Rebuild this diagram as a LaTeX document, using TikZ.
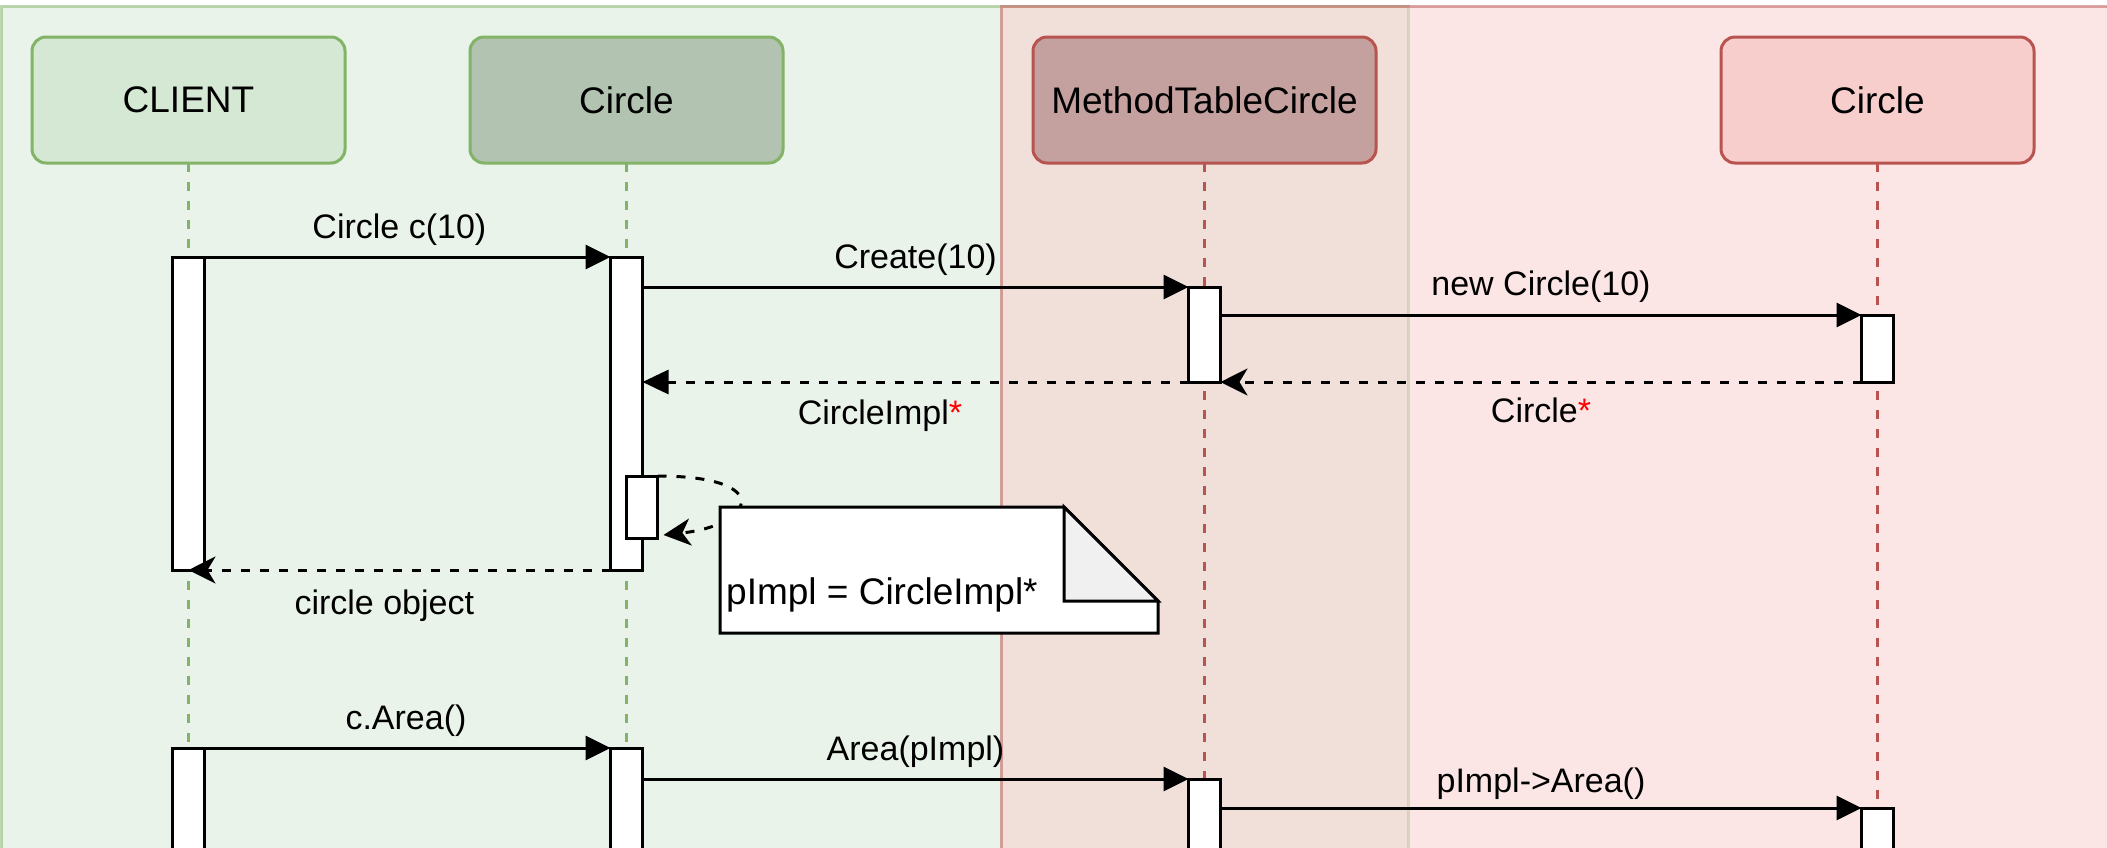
\documentclass[tikz,border=0pt]{standalone}
\usepackage{fontspec}
\setmainfont{Liberation Sans}
\usetikzlibrary{positioning,arrows.meta}

\definecolor{grnfill}{HTML}{D5E8D4}
\definecolor{grnline}{HTML}{82B366}
\definecolor{grndark}{HTML}{B2C4B1}
\definecolor{redfill}{HTML}{F8CECC}
\definecolor{redline}{HTML}{B85450}
\definecolor{reddark}{HTML}{C4A09F}

\tikzset{
	lane/.style={line width=3pt,opacity=0.5},
	head/.style={draw,rounded corners=14pt,line width=3pt,outer sep=0pt,minimum width=313pt,minimum height=126pt,font=\fontsize{37}{44}\selectfont},
	life/.style={line width=2.5pt,dash pattern=on 9pt off 10pt},
	bar/.style={draw,fill=white,line width=3pt,minimum width=32pt,inner sep=0pt,outer sep=0pt,anchor=north},
	lbl/.style={font=\fontsize{34}{40}\selectfont,inner sep=0pt,text height=25pt,text depth=7pt},
	msg/.style={line width=3pt,-{Triangle[length=25pt,width=24pt]}},
	ret/.style={line width=3pt,dash pattern=on 9pt off 10pt,-{Stealth[length=27pt,width=27pt,inset=8pt]}},
	rettri/.style={ret,-{Triangle[length=26pt,width=24pt]}}
}

\begin{document}
\begin{tikzpicture}[x=1pt,y=-1pt]
\useasboundingbox (0,0) rectangle (2107,847);
\clip (0,0) rectangle (2107,847);

\filldraw[lane,draw=grnline,fill=grnfill]	(1,6) rectangle (1408,900);
\filldraw[lane,draw=redline,fill=redfill]	(1001,6) rectangle (2200,900);

\node[head,fill=grnfill,draw=grnline]				(client)	at (188.5,100)		{CLIENT};
\node[head,fill=grndark,draw=grnline]				(circ)		[right=125pt of client]	{Circle};
\node[head,fill=reddark,draw=redline,minimum width=343pt]	(mtc)		[right=250pt of circ]	{MethodTableCircle};
\node[head,fill=redfill,draw=redline]				(impl)		[right=345pt of mtc]	{Circle};

\foreach \n/\c in {client/grnline,circ/grnline,mtc/redline,impl/redline}
	\draw[life,\c] (\n.south) -- (\n.south |- 0,900);

\node[bar,minimum height=313pt]	(cl_1)	at (client |- 0,257)	{};
\node[bar,minimum height=313pt]	(ci_1)	at (circ |- 0,257)	{};
\node[bar,minimum height=95pt]	(mt_1)	at (mtc |- 0,287)	{};
\node[bar,minimum height=67pt]	(cr_1)	at (impl |- 0,315)	{};
\node[bar,minimum height=62pt,minimum width=31pt,anchor=north west]	(self)	at (ci_1.north |- 0,476)	{};
\node[bar,minimum height=150pt]	(cl_2)	at (client |- 0,748)	{};
\node[bar,minimum height=150pt]	(ci_2)	at (circ |- 0,748)	{};
\node[bar,minimum height=150pt]	(mt_2)	at (mtc |- 0,779)	{};
\node[bar,minimum height=150pt]	(cr_2)	at (impl |- 0,808)	{};

\path[msg]	(cl_1.north west)		edge	node[lbl,pos=0.518,yshift=28pt]	{Circle c(10)}	(ci_1.north west)
		(ci_1.east |- mt_1.north)	edge	node[lbl,yshift=28pt]	{Create(10)}	(mt_1.north west)
		(mt_1.east |- cr_1.north)	edge	node[lbl,yshift=29pt]	{new Circle(10)}	(cr_1.north west)
		(cl_2.north west)		edge	node[lbl,pos=0.533,yshift=28pt]	{c.Area()}	(ci_2.north west)
		(ci_2.east |- mt_2.north)	edge	node[lbl,yshift=28pt]	{Area(pImpl)}	(mt_2.north west)
		(mt_2.east |- cr_2.north)	edge	node[lbl,yshift=25pt]	{pImpl->Area()}	(cr_2.north west);

\path[ret]	(cr_1.south west)		edge	node[lbl,yshift=-31pt]	{Circle\textcolor{red}{*}}	(mt_1.south east)
		(mt_1.south west)		edge[rettri]	node[lbl,pos=0.565,yshift=-33pt]	{CircleImpl\textcolor{red}{*}}	(ci_1.east |- mt_1.south)
		(ci_1.south west)		edge	node[lbl,pos=0.536,yshift=-35pt]	{circle object}	(cl_1.south);

\draw[ret] (self.north east) .. controls +(118,0) and +(92,-10) .. ([xshift=6pt,yshift=3pt]self.south east);

\node[minimum width=438pt,minimum height=126pt,inner sep=0pt,outer sep=0pt]	(note)	at (939,570)	{};
\filldraw[line width=3pt,fill=white]	(note.north west) -- ([xshift=-94pt]note.north east) -- ([yshift=-94pt]note.north east) -- (note.south east) -- (note.south west) -- cycle;
\filldraw[line width=3pt,fill=black!6]	([xshift=-94pt]note.north east) -- ([xshift=-94pt,yshift=-94pt]note.north east) -- ([yshift=-94pt]note.north east) -- cycle;
\node[font=\fontsize{37}{44}\selectfont,inner sep=0pt,anchor=west]	(note_txt)	at ([xshift=6pt,yshift=-25pt]note.west)	{pImpl = CircleImpl*};
\end{tikzpicture}
\end{document}
